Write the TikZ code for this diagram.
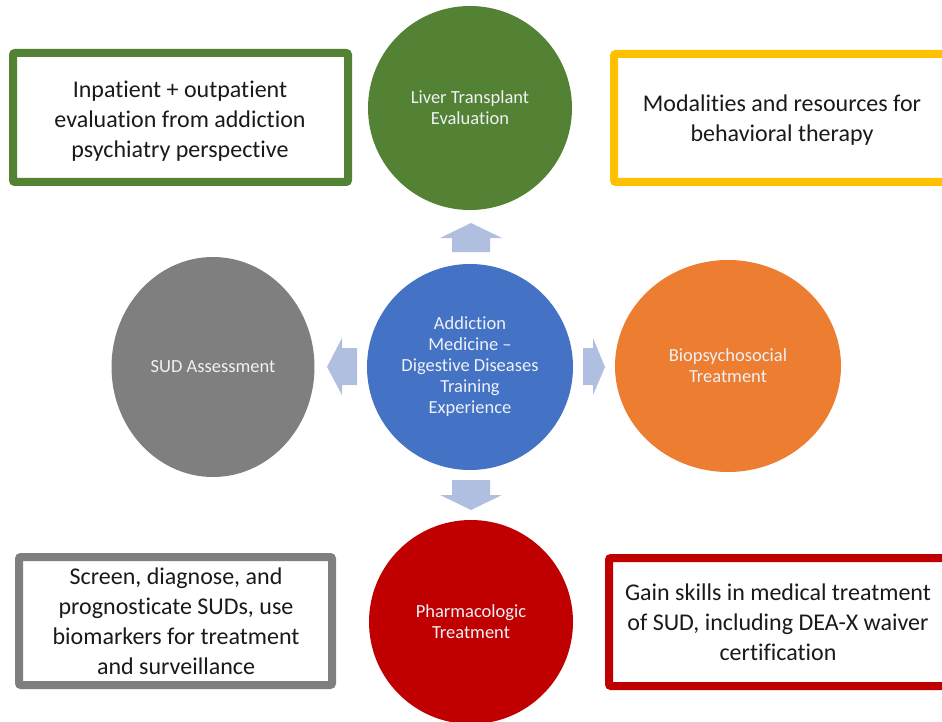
\documentclass[tikz,border=0pt]{standalone}
\usepackage{fontspec}
\setmainfont{Carlito}[Ligatures=NoCommon]
\usetikzlibrary{shapes.geometric}

\definecolor{cgreen}{HTML}{548235}
\definecolor{cyellow}{HTML}{FFC000}
\definecolor{cgray}{HTML}{7F7F7F}
\definecolor{cred}{HTML}{C00000}
\definecolor{corange}{HTML}{ED7D31}
\definecolor{cblue}{HTML}{4472C4}
\definecolor{carrow}{HTML}{B0BEE0}
\definecolor{ctext}{HTML}{1A1A1A}
\definecolor{clabel}{HTML}{EEF1F6}

\tikzset{
  disc/.style={circle, draw=none, inner sep=0pt, align=center,
    text=clabel, font=\fontsize{18.5}{21}\selectfont},
  oval/.style={ellipse, draw=none, inner sep=0pt, align=center,
    text=clabel, font=\fontsize{18.5}{21}\selectfont},
  frame/.style={draw, line width=8pt, rounded corners=2pt, fill=white,
    inner sep=0pt},
  boxtext/.style={align=center, text=ctext, inner sep=0pt,
    font=\fontsize{24}{30}\selectfont},
  blockarrow/.style={fill=carrow, draw=none}
}

\begin{document}
\begin{tikzpicture}[x=1pt, y=-1pt]
\useasboundingbox (0,0) rectangle (942,722);
\clip (0,0) rectangle (942,722);

% Hub and the four surrounding themes
\node[disc, fill=cblue, minimum size=206pt] (hub) at (470,367)
  {Addiction\\Medicine --\\Digestive Diseases\\Training\\Experience};
\node[disc, fill=cgreen, minimum size=204pt] (liver) at (470,108)
  {Liver Transplant\\Evaluation};
\node[oval, fill=cgray, minimum width=203pt, minimum height=220pt] (sud) at (213,367)
  {SUD Assessment};
\node[oval, fill=corange, minimum width=226pt, minimum height=212pt] (bio) at (728,366)
  {Biopsychosocial\\Treatment};
\node[disc, fill=cred, minimum size=204pt] (pharma) at (471,622)
  {Pharmacologic\\Treatment};

% Block arrows pointing outward from the hub
\coordinate (up) at (471,223);
\coordinate (down) at (471,510);
\coordinate (left) at (327,367);
\coordinate (right) at (605,367);
\fill[blockarrow] (up) -- ++(31,15) -- ++(-12,0) -- ++(0,14) -- ++(-38,0)
  -- ++(0,-14) -- ++(-12,0) -- cycle;
\fill[blockarrow] (down) -- ++(31,-15) -- ++(-12,0) -- ++(0,-15) -- ++(-38,0)
  -- ++(0,15) -- ++(-12,0) -- cycle;
\fill[blockarrow] (left) -- ++(15,-29) -- ++(0,10) -- ++(15,0) -- ++(0,37)
  -- ++(-15,0) -- ++(0,10) -- cycle;
\fill[blockarrow] (right) -- ++(-12,-29) -- ++(0,10) -- ++(-10,0) -- ++(0,37)
  -- ++(10,0) -- ++(0,10) -- cycle;

% Framed descriptions
\node[frame, draw=cgreen, minimum width=335pt, minimum height=129pt] (boxliver) at (180.5,117.5) {};
\node[boxtext] (txtliver) at (180,121)
  {Inpatient + outpatient\\evaluation from addiction\\psychiatry perspective};

\node[frame, draw=cyellow, minimum width=346pt, minimum height=128pt] (boxbio) at (787,118) {};
\node[boxtext] (txtbio) at (782,120)
  {Modalities and resources for\\behavioral therapy};

\node[frame, draw=cgray, minimum width=313pt, minimum height=128pt] (boxsud) at (175.5,621) {};
\node[boxtext] (txtsud) at (176,621)
  {Screen, diagnose, and\\prognosticate SUDs, use\\biomarkers for treatment\\and surveillance};

\node[frame, draw=cred, minimum width=351pt, minimum height=128pt] (boxpharma) at (784.5,622) {};
\node[boxtext] (txtpharma) at (778,622)
  {Gain skills in medical treatment\\of SUD, including DEA-X waiver\\certification};
\end{tikzpicture}
\end{document}
